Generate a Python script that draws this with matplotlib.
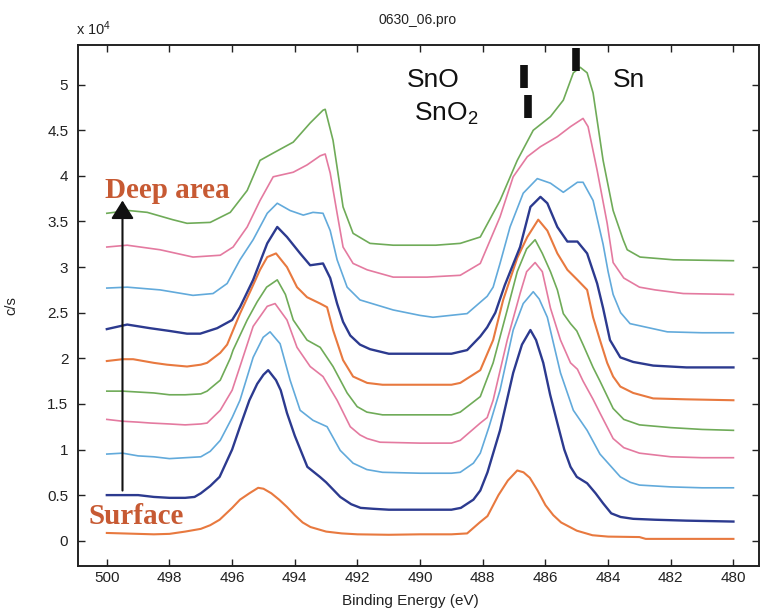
import matplotlib
matplotlib.use("Agg")
import matplotlib.pyplot as plt

# Binding energy (eV) and intensity (x10^4 c/s)
be1 = [500.0, 499.5, 499.0, 498.5, 498.0, 497.5, 497.0, 496.7, 496.4, 496.0, 495.75, 495.45, 495.17, 495.0, 494.75, 494.5, 494.25, 494.0, 493.75, 493.5, 493.0, 492.5, 492.0, 491.0, 490.0, 489.0, 488.5, 488.1, 487.85, 487.5, 487.2, 486.9, 486.7, 486.5, 486.25, 486.0, 485.75, 485.5, 485.0, 484.5, 484.0, 483.0, 482.8, 482.0, 481.0, 480.0]
y1 = [0.085, 0.08, 0.075, 0.07, 0.075, 0.10, 0.13, 0.17, 0.23, 0.36, 0.45, 0.52, 0.58, 0.57, 0.52, 0.45, 0.37, 0.28, 0.20, 0.15, 0.10, 0.08, 0.07, 0.065, 0.07, 0.07, 0.08, 0.20, 0.27, 0.50, 0.66, 0.77, 0.75, 0.69, 0.55, 0.39, 0.28, 0.20, 0.11, 0.06, 0.045, 0.04, 0.02, 0.02, 0.02, 0.02]

be2 = [500.0, 499.5, 499.0, 498.5, 498.0, 497.5, 497.2, 497.0, 496.7, 496.4, 496.2, 496.0, 495.75, 495.45, 495.2, 495.0, 494.85, 494.6, 494.45, 494.25, 494.0, 493.6, 493.2, 493.0, 492.55, 492.2, 491.9, 491.5, 491.0, 490.0, 489.0, 488.7, 488.3, 488.08, 487.85, 487.45, 487.03, 486.75, 486.48, 486.3, 486.07, 485.85, 485.62, 485.4, 485.2, 485.0, 484.67, 484.4, 484.16, 483.9, 483.6, 483.2, 482.5, 481.5, 480.0]
y2 = [0.50, 0.50, 0.50, 0.48, 0.47, 0.47, 0.48, 0.52, 0.60, 0.70, 0.85, 1.00, 1.25, 1.54, 1.72, 1.82, 1.87, 1.76, 1.65, 1.40, 1.15, 0.81, 0.70, 0.64, 0.48, 0.40, 0.36, 0.35, 0.34, 0.34, 0.34, 0.36, 0.45, 0.55, 0.75, 1.21, 1.84, 2.15, 2.31, 2.20, 1.95, 1.60, 1.29, 1.00, 0.81, 0.70, 0.63, 0.52, 0.41, 0.30, 0.26, 0.24, 0.23, 0.22, 0.21]

be3 = [500.0, 499.5, 499.0, 498.5, 498.0, 497.5, 497.0, 496.7, 496.38, 496.0, 495.75, 495.33, 495.01, 494.79, 494.47, 494.15, 493.83, 493.42, 492.97, 492.55, 492.14, 491.7, 491.2, 490.0, 489.0, 488.72, 488.3, 488.08, 487.8, 487.45, 487.03, 486.71, 486.39, 486.2, 485.94, 485.7, 485.52, 485.11, 484.67, 484.26, 484.0, 483.61, 483.29, 483.0, 482.0, 481.0, 480.0]
y3 = [0.95, 0.96, 0.93, 0.92, 0.90, 0.91, 0.92, 0.98, 1.10, 1.35, 1.54, 2.01, 2.23, 2.29, 2.16, 1.76, 1.43, 1.32, 1.25, 0.99, 0.85, 0.78, 0.75, 0.74, 0.74, 0.75, 0.85, 0.96, 1.25, 1.65, 2.31, 2.60, 2.73, 2.65, 2.45, 2.10, 1.84, 1.43, 1.21, 0.95, 0.85, 0.70, 0.64, 0.61, 0.59, 0.58, 0.58]

be4 = [500.0, 499.5, 499.0, 498.6, 498.0, 497.5, 497.0, 496.8, 496.38, 496.0, 495.75, 495.33, 494.88, 494.63, 494.25, 493.93, 493.51, 493.1, 492.65, 492.23, 491.92, 491.69, 491.28, 490.0, 489.0, 488.72, 488.08, 487.86, 487.67, 487.22, 486.81, 486.6, 486.33, 486.1, 485.84, 485.52, 485.2, 484.98, 484.8, 484.48, 484.26, 483.84, 483.5, 483.0, 482.0, 481.0, 480.0]
y4 = [1.33, 1.31, 1.30, 1.29, 1.28, 1.27, 1.28, 1.29, 1.43, 1.65, 1.91, 2.35, 2.57, 2.60, 2.42, 2.12, 1.91, 1.80, 1.54, 1.25, 1.16, 1.12, 1.08, 1.07, 1.07, 1.10, 1.29, 1.35, 1.54, 2.20, 2.71, 2.95, 3.05, 2.95, 2.55, 2.20, 1.95, 1.88, 1.75, 1.55, 1.40, 1.12, 1.02, 0.96, 0.92, 0.91, 0.91]

be5 = [500.0, 499.5, 499.0, 498.5, 498.0, 497.5, 497.0, 496.8, 496.38, 496.06, 495.97, 495.52, 495.2, 494.9, 494.56, 494.3, 494.05, 493.61, 493.19, 492.78, 492.33, 492.01, 491.7, 491.2, 490.0, 489.0, 488.72, 488.08, 487.67, 487.22, 486.9, 486.6, 486.33, 486.1, 485.84, 485.62, 485.43, 485.2, 485.0, 484.8, 484.48, 484.26, 483.84, 483.5, 483.0, 482.0, 481.0, 480.0]
y5 = [1.64, 1.64, 1.63, 1.62, 1.60, 1.60, 1.61, 1.64, 1.76, 2.00, 2.09, 2.42, 2.62, 2.78, 2.86, 2.70, 2.42, 2.20, 2.12, 1.91, 1.62, 1.47, 1.41, 1.38, 1.38, 1.38, 1.41, 1.58, 1.95, 2.53, 2.95, 3.20, 3.30, 3.15, 2.95, 2.75, 2.49, 2.38, 2.30, 2.15, 1.90, 1.75, 1.45, 1.33, 1.27, 1.24, 1.22, 1.21]

be6 = [500.0, 499.5, 499.16, 498.5, 498.08, 497.44, 497.0, 496.8, 496.38, 496.16, 495.75, 495.4, 495.11, 494.88, 494.6, 494.25, 493.93, 493.61, 493.19, 492.97, 492.78, 492.46, 492.14, 491.69, 491.2, 490.0, 489.0, 488.72, 488.08, 487.67, 487.35, 486.9, 486.58, 486.23, 485.94, 485.62, 485.3, 484.98, 484.67, 484.48, 484.26, 484.03, 483.84, 483.61, 483.2, 482.56, 481.5, 480.0]
y6 = [1.97, 1.99, 1.99, 1.95, 1.93, 1.91, 1.93, 1.95, 2.06, 2.15, 2.49, 2.75, 2.97, 3.11, 3.15, 3.00, 2.78, 2.67, 2.60, 2.56, 2.31, 1.98, 1.80, 1.73, 1.71, 1.71, 1.71, 1.73, 1.87, 2.20, 2.64, 3.10, 3.33, 3.52, 3.40, 3.15, 2.97, 2.86, 2.75, 2.45, 2.20, 1.95, 1.80, 1.69, 1.62, 1.56, 1.55, 1.54]

be7 = [500.0, 499.35, 498.62, 498.0, 497.44, 497.02, 496.48, 496.0, 495.75, 495.33, 494.88, 494.56, 494.25, 493.83, 493.51, 493.1, 492.87, 492.65, 492.46, 492.23, 491.92, 491.6, 491.0, 490.0, 489.0, 488.5, 488.08, 487.86, 487.6, 487.3, 486.81, 486.48, 486.16, 485.94, 485.62, 485.3, 484.98, 484.67, 484.35, 484.16, 483.94, 483.61, 483.2, 482.56, 481.5, 480.0]
y7 = [2.32, 2.37, 2.33, 2.30, 2.27, 2.27, 2.33, 2.42, 2.56, 2.86, 3.26, 3.44, 3.33, 3.15, 3.02, 3.04, 2.88, 2.60, 2.40, 2.25, 2.15, 2.10, 2.05, 2.05, 2.05, 2.09, 2.24, 2.34, 2.50, 2.80, 3.22, 3.66, 3.77, 3.70, 3.44, 3.28, 3.28, 3.15, 2.82, 2.55, 2.20, 2.01, 1.96, 1.92, 1.90, 1.90]

be8 = [500.0, 499.35, 498.3, 497.25, 496.61, 496.16, 495.75, 495.33, 494.88, 494.56, 494.15, 493.73, 493.42, 493.1, 492.87, 492.65, 492.33, 491.92, 490.86, 490.0, 489.59, 488.5, 487.86, 487.67, 487.45, 487.13, 486.71, 486.26, 485.84, 485.43, 484.98, 484.8, 484.48, 484.16, 484.0, 483.84, 483.6, 483.3, 482.11, 481.0, 480.0]
y8 = [2.77, 2.78, 2.75, 2.69, 2.71, 2.82, 3.08, 3.30, 3.59, 3.70, 3.62, 3.57, 3.60, 3.59, 3.40, 3.08, 2.78, 2.64, 2.53, 2.47, 2.45, 2.49, 2.68, 2.78, 3.04, 3.44, 3.81, 3.97, 3.92, 3.82, 3.93, 3.93, 3.73, 3.25, 2.95, 2.70, 2.50, 2.38, 2.29, 2.28, 2.28]

be9 = [500.0, 499.35, 498.3, 497.25, 496.38, 495.97, 495.52, 495.11, 494.69, 494.05, 493.61, 493.19, 493.03, 492.87, 492.65, 492.46, 492.14, 491.69, 490.86, 489.78, 488.72, 488.08, 487.45, 487.03, 486.58, 486.16, 485.62, 485.2, 484.8, 484.64, 484.35, 484.03, 483.84, 483.5, 483.0, 482.5, 481.6, 480.0]
y9 = [3.22, 3.24, 3.19, 3.11, 3.13, 3.22, 3.44, 3.73, 3.99, 4.04, 4.12, 4.22, 4.24, 4.03, 3.59, 3.22, 3.04, 2.97, 2.89, 2.89, 2.91, 3.04, 3.55, 3.99, 4.21, 4.32, 4.43, 4.54, 4.63, 4.54, 4.06, 3.48, 3.05, 2.88, 2.78, 2.75, 2.71, 2.70]

be10 = [500.0, 499.3, 498.71, 497.9, 497.44, 496.7, 496.06, 495.52, 495.11, 494.69, 494.05, 493.51, 493.1, 493.03, 492.78, 492.46, 492.14, 491.6, 490.86, 489.5, 488.72, 488.08, 487.45, 486.9, 486.39, 485.84, 485.43, 485.11, 484.89, 484.67, 484.48, 484.16, 483.84, 483.52, 483.39, 482.98, 481.92, 480.0]
y10 = [3.59, 3.62, 3.60, 3.52, 3.48, 3.49, 3.60, 3.84, 4.17, 4.25, 4.37, 4.58, 4.72, 4.73, 4.39, 3.66, 3.37, 3.26, 3.24, 3.24, 3.26, 3.33, 3.73, 4.17, 4.50, 4.65, 4.83, 5.13, 5.19, 5.13, 4.91, 4.17, 3.62, 3.30, 3.19, 3.11, 3.08, 3.07]

curve_colors = ['#e8793f', '#2c3a8f', '#62aadb', '#e47aa0', '#6fab58',
                '#e8793f', '#2c3a8f', '#62aadb', '#e47aa0', '#6fab58']
curve_widths = [1.5, 1.7, 1.2, 1.2, 1.2, 1.5, 1.7, 1.2, 1.2, 1.2]

# Reference peak markers
ref_labels = ['SnO', 'SnO$_2$', 'Sn']
ref_be = [486.70, 486.55, 485.04]
ref_lo = [4.96, 4.64, 5.15]
ref_hi = [5.22, 4.89, 5.40]

yticks = [0, 0.5, 1, 1.5, 2, 2.5, 3, 3.5, 4, 4.5, 5]
ytick_labels = ['0', '0.5', '1', '1.5', '2', '2.5', '3', '3.5', '4', '4.5', '5']
xticks = [500, 498, 496, 494, 492, 490, 488, 486, 484, 482, 480]

plt.rcParams['font.family'] = ['Liberation Sans', 'DejaVu Sans']
plt.rcParams['mathtext.fontset'] = 'custom'
plt.rcParams['mathtext.rm'] = 'Liberation Sans'
plt.rcParams['mathtext.default'] = 'regular'

fig = plt.figure(figsize=(7.6, 6.13), dpi=100)
W, H = 760, 613
ax = fig.add_axes([78 / W, (H - 565.7) / H, (758.5 - 78) / W, (565.7 - 45) / H])

bes = [be1, be2, be3, be4, be5, be6, be7, be8, be9, be10]
ys = [y1, y2, y3, y4, y5, y6, y7, y8, y9, y10]
for b, v, c, lw in zip(bes, ys, curve_colors, curve_widths):
    ax.plot(b, v, color=c, lw=lw, solid_joinstyle='round')

ax.set_xlim(500.92, 479.2)
ax.set_ylim(-0.274, 5.435)
ax.set_xticks(xticks)
ax.set_xticklabels([str(t) for t in xticks])
ax.set_yticks(yticks)
ax.set_yticklabels(ytick_labels)
ax.tick_params(direction='in', length=5, width=1.0, top=True, right=True,
               labelsize=11, colors='#222222')
ax.tick_params(axis='y', pad=7)
ax.tick_params(axis='x', pad=4)
for s in ax.spines.values():
    s.set_linewidth(1.4)
    s.set_color('#222222')

ax.set_xlabel('Binding Energy (eV)', fontsize=11, color='#222222')
ax.xaxis.set_label_coords(0.488, -0.054)
ax.set_ylabel('c/s', fontsize=10.5, color='#222222')
ax.yaxis.set_label_coords(-0.088, 0.5)

fig.text(418 / W, 1 - 20 / H, '0630_06.pro', ha='center', va='center',
         fontsize=10, color='#222222')
fig.text(76 / W, 1 - 29 / H, r'x 10$^4$', ha='left', va='center',
         fontsize=10.5, color='#222222')

# Arrow and depth labels
ax.annotate('', xy=(499.5, 3.73), xytext=(499.5, 0.55),
            arrowprops=dict(arrowstyle='-|>,head_length=0.4,head_width=0.25',
                            color='#111111', lw=1.5, mutation_scale=28,
                            shrinkA=0, shrinkB=0))
ax.text(500.05, 3.845, 'Deep area', ha='left', va='center', fontsize=21,
        fontweight='bold', family=['Liberation Serif', 'DejaVu Serif'],
        color='#c75a33')
ax.text(500.6, 0.26, 'Surface', ha='left', va='center', fontsize=21,
        fontweight='bold', family=['Liberation Serif', 'DejaVu Serif'],
        color='#c75a33')

# Reference bars and labels
ax.vlines(ref_be, ref_lo, ref_hi, colors='#111111', lw=5.5)
ax.text(490.41, 5.046, ref_labels[0], ha='left', va='center', fontsize=19,
        color='#111111')
ax.text(490.2, 4.68, ref_labels[1], ha='left', va='center', fontsize=19,
        color='#111111')
ax.text(483.84, 5.05, ref_labels[2], ha='left', va='center', fontsize=19,
        color='#111111')

fig.savefig('out.png', dpi=100)
